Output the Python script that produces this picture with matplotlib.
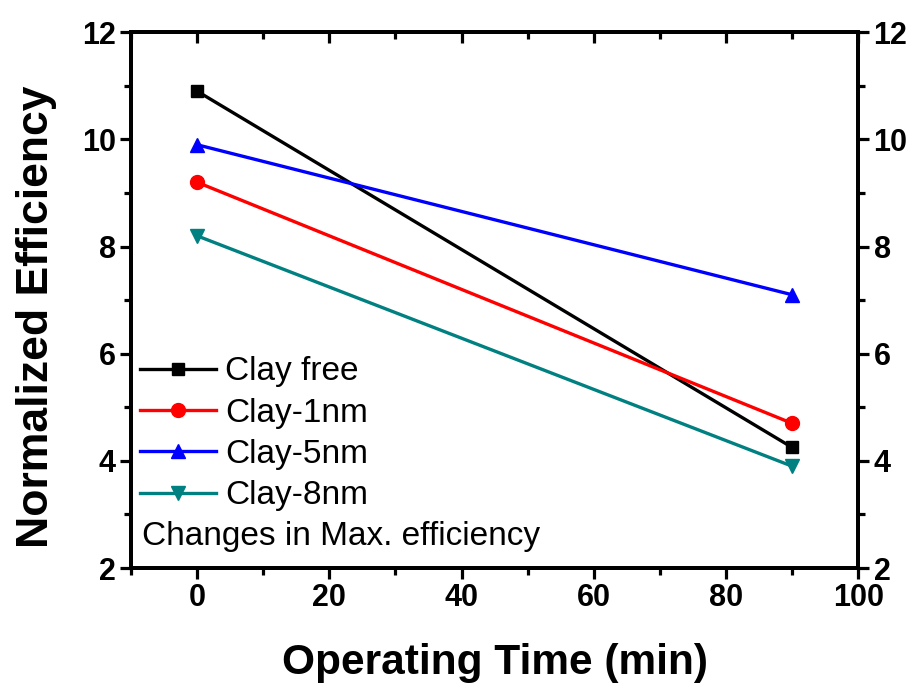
import matplotlib
matplotlib.use("Agg")
import matplotlib.pyplot as plt
from matplotlib.ticker import MultipleLocator

plt.rcParams['font.family'] = ['Liberation Sans', 'DejaVu Sans']

# data
times = [0, 90]
series_names = ['Clay free', 'Clay-1nm', 'Clay-5nm', 'Clay-8nm']
clay_free = [10.9, 4.25]
clay_1nm = [9.2, 4.7]
clay_5nm = [9.9, 7.1]
clay_8nm = [8.2, 3.9]

colors = ['black', 'red', 'blue', '#008080']
markers = ['s', 'o', '^', 'v']
msizes = [9, 10, 10.5, 10.5]

xlim = (-10, 100)
ylim = (2, 12)

fig = plt.figure(figsize=(9.16, 6.86), dpi=100)
ax = fig.add_axes([0.143, 0.172, 0.794, 0.781])

for name, vals, c, m, ms in zip(series_names,
                                [clay_free, clay_1nm, clay_5nm, clay_8nm],
                                colors, markers, msizes):
    ax.plot(times, vals, color=c, marker=m, markersize=ms, lw=2.4, label=name,
            clip_on=False, zorder=3)

ax.set_xlim(*xlim)
ax.set_ylim(*ylim)
ax.xaxis.set_major_locator(MultipleLocator(20))
ax.xaxis.set_minor_locator(MultipleLocator(10))
ax.yaxis.set_major_locator(MultipleLocator(2))
ax.yaxis.set_minor_locator(MultipleLocator(1))
ax.tick_params(which='major', direction='out', length=8, width=2.3, pad=3,
               labelsize=22)
ax.tick_params(which='minor', direction='out', length=5, width=2.3)
for lab in ax.get_xticklabels() + ax.get_yticklabels():
    lab.set_fontweight('bold')

# top axis: inward ticks, no labels
axt = ax.twiny()
axt.set_xlim(*xlim)
axt.xaxis.set_major_locator(MultipleLocator(20))
axt.xaxis.set_minor_locator(MultipleLocator(10))
axt.tick_params(which='major', direction='in', length=8, width=2.3, labeltop=False)
axt.tick_params(which='minor', direction='in', length=5, width=2.3)

# right axis: outward ticks with labels
axr = ax.twinx()
axr.set_ylim(*ylim)
axr.yaxis.set_major_locator(MultipleLocator(2))
axr.yaxis.set_minor_locator(MultipleLocator(1))
axr.tick_params(which='major', direction='out', length=8, width=2.3, pad=3,
                labelsize=22)
axr.tick_params(which='minor', direction='out', length=5, width=2.3)
for lab in axr.get_yticklabels():
    lab.set_fontweight('bold')

for a in (ax, axt, axr):
    for sp in a.spines.values():
        sp.set_linewidth(2.6)

ax.set_xlabel('Operating Time (min)', fontsize=30.5, fontweight='bold')
ax.xaxis.set_label_coords(0.5, -0.178)
ax.xaxis.label.set_va('center')
ax.set_ylabel('Normalized Efficiency', fontsize=32, fontweight='bold')
ax.yaxis.set_label_coords(-0.13, 0.469)
ax.yaxis.label.set_va('center')

leg = ax.legend(loc='upper left', bbox_to_anchor=(0.012, 0.395), frameon=False,
                fontsize=24, handlelength=2.3, handletextpad=0.27,
                labelspacing=0.31, borderaxespad=0, borderpad=0)
ax.text(0.015, 0.059, 'Changes in Max. efficiency', transform=ax.transAxes,
        fontsize=24, ha='left', va='center')

fig.savefig('out.png', dpi=100)
